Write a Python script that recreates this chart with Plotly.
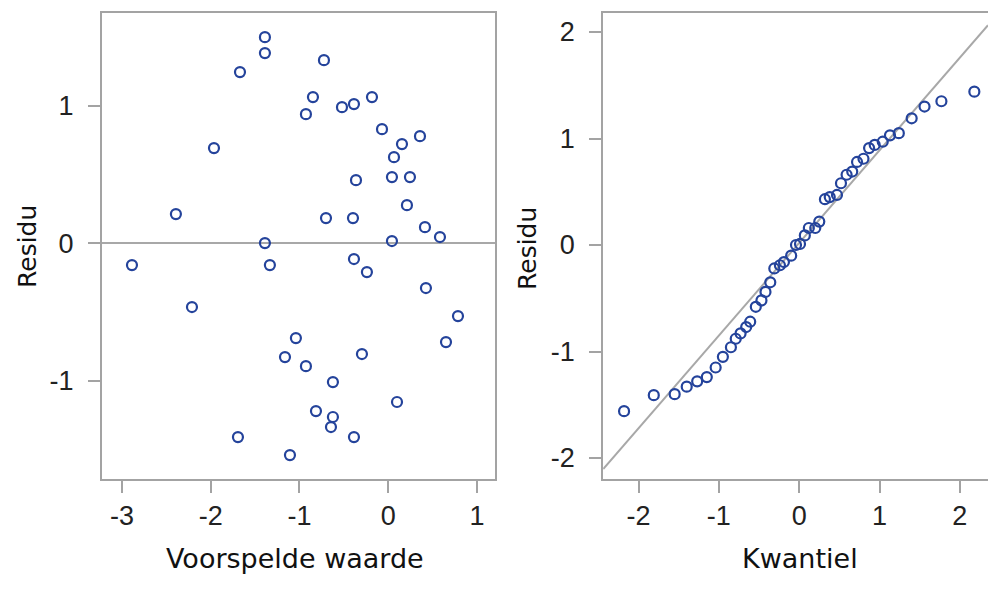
import plotly.graph_objects as go

# Left panel: predicted value vs residual
voorspeld = [-1.389, -1.389, -1.670, -0.724, -0.848, -0.927, -0.521, -0.386, -0.183, -1.963,
             -0.070, 0.358, 0.155, 0.065, -0.363, 0.042, 0.245, -2.392, -0.701, -0.397,
             0.211, 0.414, 0.583, -1.389, 0.042, -2.887, -1.333, -0.386, -0.240, -2.211,
             0.425, 0.786, 0.651, -1.040, -1.163, -0.927, -0.296, -0.623, 0.099, -0.814,
             -0.623, -0.645, -0.386, -1.693, -1.107]
residu_l = [1.498, 1.382, 1.244, 1.331, 1.062, 0.938, 0.989, 1.011, 1.062, 0.691,
            0.829, 0.778, 0.720, 0.625, 0.458, 0.480, 0.480, 0.211, 0.182, 0.182,
            0.276, 0.116, 0.044, 0.000, 0.015, -0.160, -0.160, -0.116, -0.211, -0.465,
            -0.327, -0.531, -0.720, -0.691, -0.829, -0.895, -0.807, -1.011, -1.156, -1.222,
            -1.265, -1.338, -1.411, -1.411, -1.542]

# Right panel: normal quantile vs sorted residual
kwantiel = [-2.18, -1.81, -1.55, -1.40, -1.27, -1.15, -1.04, -0.95, -0.85, -0.79,
            -0.73, -0.66, -0.61, -0.54, -0.47, -0.42, -0.36, -0.31, -0.24, -0.19,
            -0.10, -0.04, 0.01, 0.07, 0.12, 0.20, 0.25, 0.32, 0.38, 0.47,
            0.52, 0.59, 0.66, 0.72, 0.80, 0.87, 0.94, 1.04, 1.13, 1.24,
            1.40, 1.56, 1.77, 2.18]
residu_r = [-1.56, -1.41, -1.40, -1.33, -1.28, -1.24, -1.15, -1.05, -0.96, -0.88,
            -0.83, -0.77, -0.72, -0.58, -0.52, -0.44, -0.35, -0.22, -0.19, -0.16,
            -0.10, 0.00, 0.01, 0.09, 0.16, 0.16, 0.22, 0.43, 0.45, 0.47,
            0.58, 0.66, 0.69, 0.78, 0.81, 0.91, 0.94, 0.97, 1.03, 1.05,
            1.19, 1.30, 1.35, 1.44]

# reference line of the QQ plot
qq_intercept = 0.02
qq_slope = 0.87

x1_range = [-3.225, 1.203]
y1_range = [-1.716, 1.673]
x2_range = [-2.44, 2.35]
y2_range = [-2.197, 2.183]

x1_ticks = [-3, -2, -1, 0, 1]
y1_ticks = [-1, 0, 1]
x2_ticks = [-2, -1, 0, 1, 2]
y2_ticks = [-2, -1, 0, 1, 2]

blue = "#24439b"
frame = "#a3a3a3"
refline = "#a8a8a8"
tick_font = dict(family="Liberation Sans Narrow, Liberation Sans, Arial", size=27, color="#222222")
title_font = dict(family="DejaVu Sans, Verdana", size=27, color="#111111")
ytitle_font = dict(family="DejaVu Sans, Verdana", size=25, color="#111111")

marker = dict(symbol="circle-open", size=10, color=blue, line=dict(width=2.2, color=blue))

fig = go.Figure()

fig.add_trace(go.Scatter(x=voorspeld, y=residu_l, mode="markers", marker=marker,
                         xaxis="x", yaxis="y", showlegend=False))

qx = x2_range
qy = [qq_intercept + qq_slope * v for v in qx]
fig.add_trace(go.Scatter(x=qx, y=qy, mode="lines", line=dict(color=refline, width=2),
                         xaxis="x2", yaxis="y2", showlegend=False))
fig.add_trace(go.Scatter(x=kwantiel, y=residu_r, mode="markers", marker=marker,
                         xaxis="x2", yaxis="y2", showlegend=False))

axis_common = dict(showline=True, linecolor=frame, linewidth=2, showgrid=False, zeroline=False,
                   ticks="outside", ticklen=12, tickwidth=1.5, tickcolor=frame,
                   tickfont=tick_font, fixedrange=True, automargin=False)

fig.update_layout(
    width=988, height=596,
    margin=dict(l=0, r=0, t=0, b=0, autoexpand=False),
    paper_bgcolor="white", plot_bgcolor="white",
    xaxis=dict(domain=[0.1032, 0.501], range=x1_range, tickvals=x1_ticks,
               ticktext=[str(v) for v in x1_ticks], mirror=True, anchor="y",
               ticklabelstandoff=0, **axis_common),
    yaxis=dict(domain=[0.1963, 0.978], range=y1_range, tickvals=y1_ticks,
               ticktext=[str(v) for v in y1_ticks], mirror=True, anchor="x",
               ticklabelstandoff=9, **axis_common),
    xaxis2=dict(domain=[0.6105, 1.0], range=x2_range, tickvals=x2_ticks,
                ticktext=[str(v) for v in x2_ticks], mirror=True, anchor="y2",
                ticklabelstandoff=0, **axis_common),
    yaxis2=dict(domain=[0.1963, 0.979], range=y2_range, tickvals=y2_ticks,
                ticktext=[str(v) for v in y2_ticks], mirror=False, anchor="x2",
                ticklabelstandoff=9, **axis_common),
    shapes=[dict(type="line", xref="x domain", yref="y", x0=0, x1=1, y0=0, y1=0,
                 line=dict(color=refline, width=2), layer="below")],
    annotations=[
        dict(text="Voorspelde waarde", xref="paper", yref="paper", x=295/988, y=1-558/596,
             showarrow=False, font=title_font, xanchor="center", yanchor="middle"),
        dict(text="Kwantiel", xref="paper", yref="paper", x=800/988, y=1-558/596,
             showarrow=False, font=title_font, xanchor="center", yanchor="middle"),
        dict(text="Residu", xref="paper", yref="paper", x=27/988, y=1-247/596, textangle=-90,
             showarrow=False, font=ytitle_font, xanchor="center", yanchor="middle"),
        dict(text="Residu", xref="paper", yref="paper", x=527/988, y=1-249/596, textangle=-90,
             showarrow=False, font=ytitle_font, xanchor="center", yanchor="middle"),
    ],
)

fig.write_html("out.html", config={"displayModeBar": False},
               post_script="document.body.style.margin='0';document.body.style.overflow='hidden';")
